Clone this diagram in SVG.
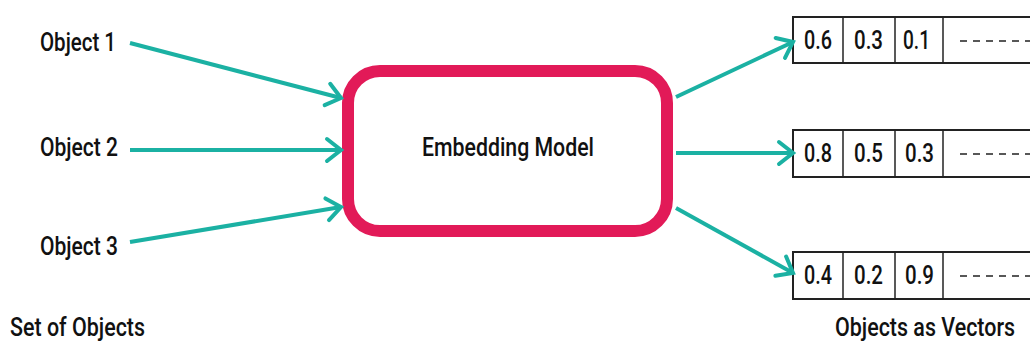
<svg xmlns="http://www.w3.org/2000/svg" width="1030" height="345" viewBox="0 0 1030 345">
  <style>
    .lbl { font-family: Roboto, "Liberation Sans", sans-serif; font-size: 25px; font-weight: 500; fill: #111; }
    .num { font-family: Roboto, "Liberation Sans", sans-serif; font-size: 25px; font-weight: 500; fill: #111; }
    .edge { stroke: #1BB1A3; stroke-width: 4; fill: none; marker-end: url(#chev); }
    .cell { fill: #fff; stroke: #222; stroke-width: 2; }
    .div { stroke: #222; stroke-width: 1.5; }
    .dash { stroke: #222; stroke-width: 1.6; stroke-dasharray: 7 6; }
  </style>
  <defs>
    <marker id="chev" markerUnits="userSpaceOnUse" markerWidth="24" markerHeight="28" refX="20" refY="14" orient="auto">
      <path d="M6,3 L20,14 L6,25" fill="none" stroke="#1BB1A3" stroke-width="4" stroke-linecap="round"/>
    </marker>
  </defs>
  <rect width="1030" height="345" fill="#fff"/>

  <!-- inputs -->
  <g id="object1"><text class="lbl" x="40" y="51" textLength="76" lengthAdjust="spacingAndGlyphs">Object 1</text></g>
  <g id="object2"><text class="lbl" x="40" y="156" textLength="78" lengthAdjust="spacingAndGlyphs">Object 2</text></g>
  <g id="object3"><text class="lbl" x="40" y="255" textLength="78" lengthAdjust="spacingAndGlyphs">Object 3</text></g>

  <!-- model -->
  <g id="model">
    <rect x="348" y="71" width="319" height="160" rx="32" fill="#fff" stroke="#E21A58" stroke-width="12"/>
    <text class="lbl" x="422" y="156" textLength="172" lengthAdjust="spacingAndGlyphs">Embedding Model</text>
  </g>

  <!-- output vectors -->
  <g id="vector1">
    <rect class="cell" x="793" y="17" width="260" height="46"/>
    <line class="div" x1="843" y1="17" x2="843" y2="63"/>
    <line class="div" x1="895" y1="17" x2="895" y2="63"/>
    <line class="div" x1="943" y1="17" x2="943" y2="63"/>
    <text class="num" x="804" y="49" textLength="28" lengthAdjust="spacingAndGlyphs">0.6</text>
    <text class="num" x="854" y="49" textLength="29" lengthAdjust="spacingAndGlyphs">0.3</text>
    <text class="num" x="903" y="49" textLength="27" lengthAdjust="spacingAndGlyphs">0.1</text>
    <line class="dash" x1="960" y1="41" x2="1030" y2="41"/>
  </g>
  <g id="vector2">
    <rect class="cell" x="793" y="130" width="260" height="47"/>
    <line class="div" x1="843" y1="130" x2="843" y2="177"/>
    <line class="div" x1="895" y1="130" x2="895" y2="177"/>
    <line class="div" x1="943" y1="130" x2="943" y2="177"/>
    <text class="num" x="804" y="162" textLength="28" lengthAdjust="spacingAndGlyphs">0.8</text>
    <text class="num" x="854" y="162" textLength="29" lengthAdjust="spacingAndGlyphs">0.5</text>
    <text class="num" x="905" y="162" textLength="29" lengthAdjust="spacingAndGlyphs">0.3</text>
    <line class="dash" x1="960" y1="154" x2="1030" y2="154"/>
  </g>
  <g id="vector3">
    <rect class="cell" x="793" y="252" width="260" height="47"/>
    <line class="div" x1="843" y1="252" x2="843" y2="299"/>
    <line class="div" x1="895" y1="252" x2="895" y2="299"/>
    <line class="div" x1="943" y1="252" x2="943" y2="299"/>
    <text class="num" x="804" y="284" textLength="28" lengthAdjust="spacingAndGlyphs">0.4</text>
    <text class="num" x="854" y="284" textLength="29" lengthAdjust="spacingAndGlyphs">0.2</text>
    <text class="num" x="905" y="284" textLength="29" lengthAdjust="spacingAndGlyphs">0.9</text>
    <line class="dash" x1="960" y1="276" x2="1030" y2="276"/>
  </g>

  <!-- captions -->
  <g id="caption-left"><text class="lbl" x="10" y="336" textLength="135" lengthAdjust="spacingAndGlyphs">Set of Objects</text></g>
  <g id="caption-right"><text class="lbl" x="835" y="336" textLength="180" lengthAdjust="spacingAndGlyphs">Objects as Vectors</text></g>

  <!-- connectors -->
  <g id="connectors">
    <line class="edge" x1="130" y1="43" x2="341" y2="98"/>
    <line class="edge" x1="130" y1="150" x2="341" y2="150"/>
    <line class="edge" x1="130" y1="242" x2="341" y2="207"/>
    <line class="edge" x1="676" y1="97" x2="793" y2="42"/>
    <line class="edge" x1="676" y1="153" x2="793" y2="153"/>
    <line class="edge" x1="676" y1="208" x2="793" y2="273"/>
  </g>
</svg>
